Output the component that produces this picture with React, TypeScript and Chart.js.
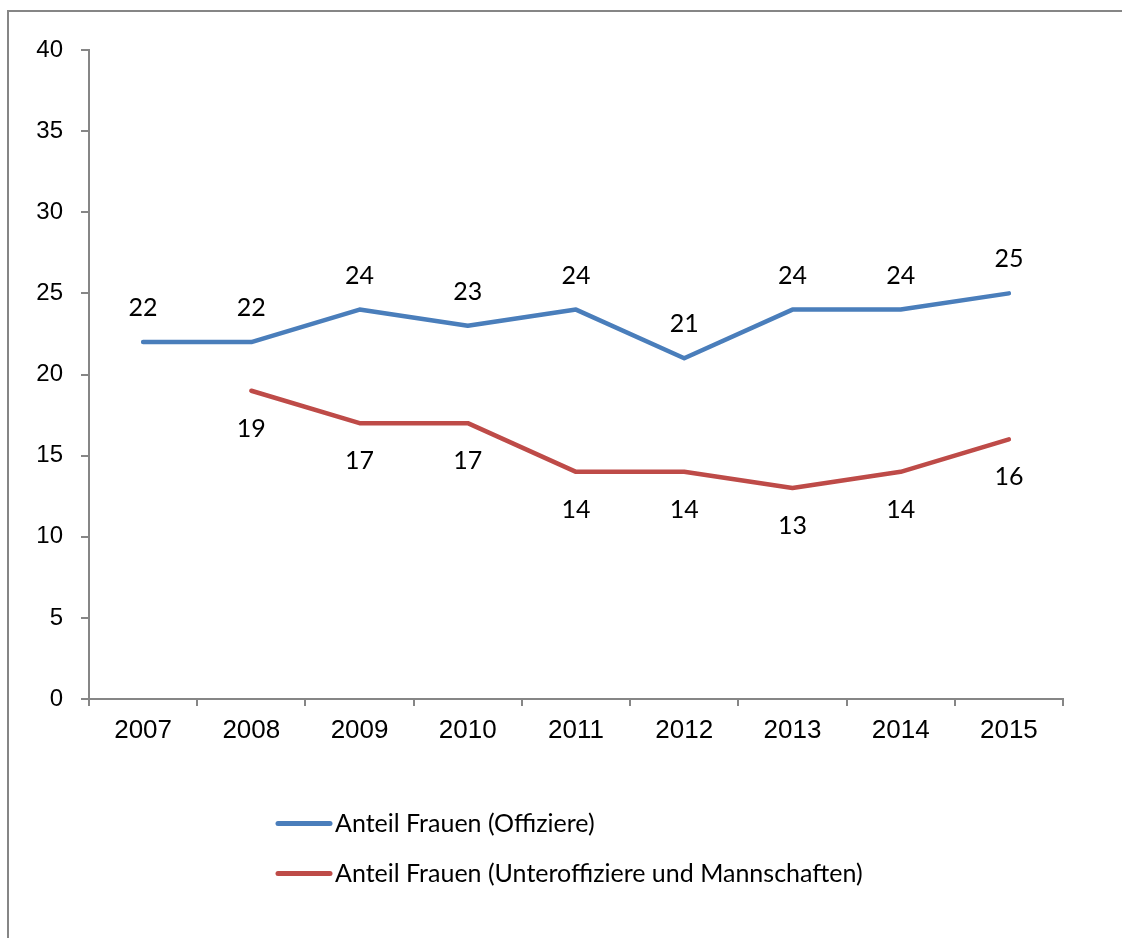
import React, { useEffect, useRef } from "react";
import { Chart, registerables } from "chart.js";

Chart.register(...registerables);

const years = ["2007", "2008", "2009", "2010", "2011", "2012", "2013", "2014", "2015"];
const officers = [22, 22, 24, 23, 24, 21, 24, 24, 25];
const enlisted = [null, 19, 17, 17, 14, 14, 13, 14, 16];
const seriesLabels = [
  "Anteil Frauen (Offiziere)",
  "Anteil Frauen (Unteroffiziere und Mannschaften)",
];
const yTicks = [0, 5, 10, 15, 20, 25, 30, 35, 40];

const BLUE = "#4A7EBB";
const RED = "#BE4B48";
const AXIS = "#868686";
const LABEL_FONT = "Lato, 'Noto Sans', sans-serif";

const W = 1122;
const H = 938;

const overlayPlugin = {
  id: "overlay",
  afterDraw(chart: any) {
    const ctx = chart.ctx;
    ctx.save();
    // outer frame (left + top visible)
    ctx.strokeStyle = AXIS;
    ctx.lineWidth = 2;
    ctx.beginPath();
    ctx.moveTo(8, H + 2);
    ctx.lineTo(8, 11);
    ctx.lineTo(W + 2, 11);
    ctx.stroke();

    // data labels
    const offsets = [-34, 38];
    ctx.font = `25px ${LABEL_FONT}`;
    ctx.fillStyle = "#000";
    ctx.textAlign = "center";
    ctx.textBaseline = "middle";
    chart.data.datasets.forEach((ds: any, di: number) => {
      const meta = chart.getDatasetMeta(di);
      meta.data.forEach((pt: any, i: number) => {
        const v = ds.data[i];
        if (v === null || v === undefined) return;
        ctx.fillText(String(v), pt.x, pt.y + offsets[di]);
      });
    });

    // legend
    const legendX = 278;
    const legendY = [823.5, 873.5];
    ctx.textAlign = "left";
    ctx.font = `25px ${LABEL_FONT}`;
    chart.data.datasets.forEach((ds: any, di: number) => {
      const y = legendY[di];
      ctx.strokeStyle = ds.borderColor;
      ctx.lineWidth = 5;
      ctx.lineCap = "round";
      ctx.beginPath();
      ctx.moveTo(legendX, y);
      ctx.lineTo(legendX + 52, y);
      ctx.stroke();
      ctx.fillStyle = "#000";
      ctx.fillText(ds.label, legendX + 57, y);
    });
    ctx.restore();
  },
};

export default function App() {
  const ref = useRef<HTMLCanvasElement | null>(null);

  useEffect(() => {
    if (!ref.current) return;
    const chart = new Chart(ref.current, {
      type: "line",
      data: {
        labels: years,
        datasets: [
          {
            label: seriesLabels[0],
            data: officers,
            borderColor: BLUE,
            backgroundColor: BLUE,
            borderWidth: 4.5,
            pointRadius: 0,
            borderCapStyle: "round",
            borderJoinStyle: "round",
            tension: 0,
          },
          {
            label: seriesLabels[1],
            data: enlisted,
            borderColor: RED,
            backgroundColor: RED,
            borderWidth: 4.5,
            pointRadius: 0,
            borderCapStyle: "round",
            borderJoinStyle: "round",
            tension: 0,
          },
        ],
      },
      options: {
        responsive: false,
        animation: false,
        layout: { padding: { left: 0, top: 50, right: 59, bottom: 0 } },
        plugins: {
          legend: { display: false },
          tooltip: { enabled: false },
        },
        scales: {
          x: {
            offset: true,
            grid: {
              offset: true,
              drawOnChartArea: false,
              drawTicks: true,
              tickLength: 7,
              color: AXIS,
              lineWidth: 2,
            },
            border: { color: AXIS, width: 2 },
            ticks: {
              color: "#000",
              font: { family: "'Liberation Sans', Arial, sans-serif", size: 26 },
              padding: 9,
              maxRotation: 0,
            },
            afterFit: (s: any) => {
              s.height = 239;
            },
          },
          y: {
            min: 0,
            max: 40,
            afterBuildTicks: (s: any) => {
              s.ticks = yTicks.map((v) => ({ value: v }));
            },
            grid: {
              drawOnChartArea: false,
              drawTicks: true,
              tickLength: 8,
              color: AXIS,
              lineWidth: 2,
            },
            border: { color: AXIS, width: 2 },
            ticks: {
              color: "#000",
              font: { family: "'Liberation Sans', Arial, sans-serif", size: 24 },
              padding: 18,
            },
            afterFit: (s: any) => {
              s.width = 89;
            },
          },
        },
      },
      plugins: [overlayPlugin],
    });
    return () => chart.destroy();
  }, []);

  return (
    <div style={{ position: "absolute", left: 0, top: 0, width: W, height: H, background: "#fff" }}>
      <canvas ref={ref} width={W} height={H} style={{ display: "block" }} />
    </div>
  );
}
